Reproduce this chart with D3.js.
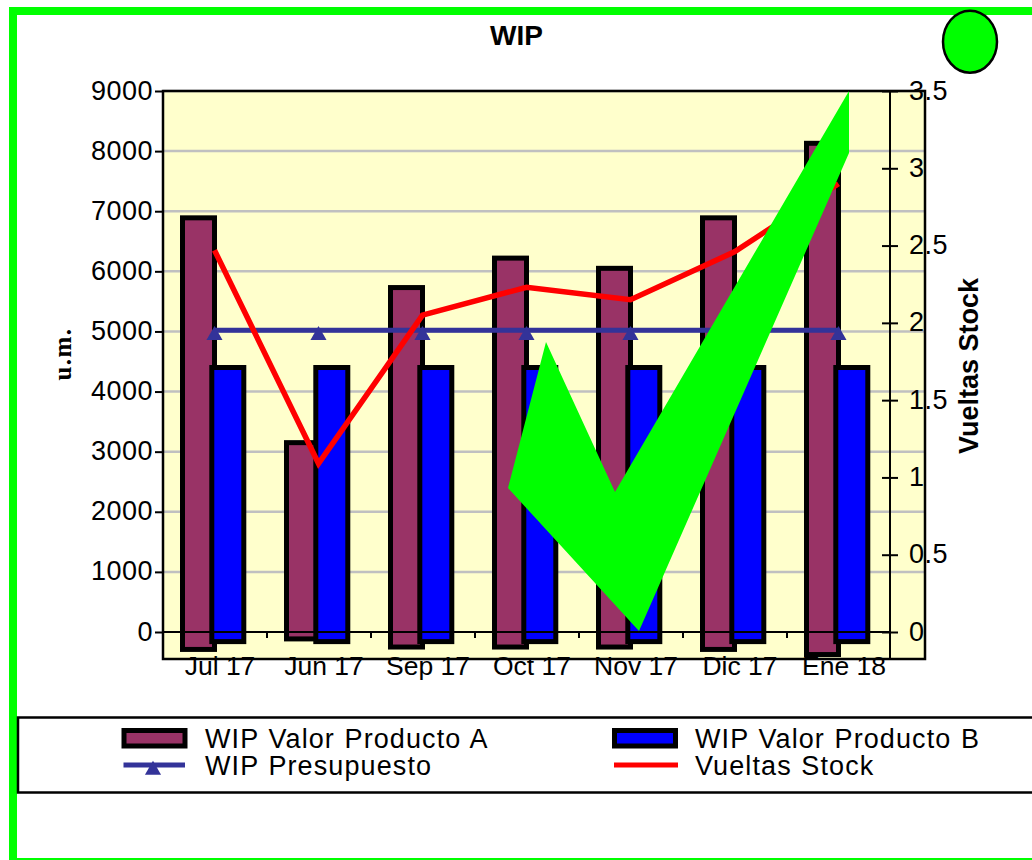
<!DOCTYPE html>
<html><head><meta charset="utf-8">
<script src="https://cdn.jsdelivr.net/npm/d3@7/dist/d3.min.js"></script>
<style>html,body{margin:0;padding:0;background:#fff;overflow:hidden}svg{display:block}text{font-family:"Liberation Sans",Arial,sans-serif;fill:#000}</style>
</head><body><script>
const categories=["Jul 17","Jun 17","Sep 17","Oct 17","Nov 17","Dic 17","Ene 18"];
const productoA=[6890,3150,5730,6220,6050,6890,8130];
const productoABase=[-290,-115,-250,-250,-250,-290,-375];
const productoB=[4400,4400,4400,4400,4400,4400,4400];
const productoBBase=[-160,-160,-160,-160,-160,-160,-160];
const presupuesto=[5020,5020,5020,5020,5020,5020,5020];
const vueltas=[2.47,1.09,2.05,2.23,2.15,2.46,2.90];
const leftTicks=[0,1000,2000,3000,4000,5000,6000,7000,8000,9000];
const rightTicks=[0,0.5,1,1.5,2,2.5,3,3.5];
const legendRows=["WIP Valor Producto A","WIP Valor Producto B","WIP Presupuesto","Vueltas Stock"];

const W=1032,H=860,GREEN="#00ff00",MAROON="#993366",BLUE="#0000ff",NAVY="#333399",RED="#ff0000";
const svg=d3.select("body").append("svg").attr("width",W).attr("height",H);
// frame
svg.append("rect").attr("x",13).attr("y",11).attr("width",W+20).attr("height",851).attr("fill","#fff").attr("stroke",GREEN).attr("stroke-width",8);

const x=d3.scaleBand().domain(categories).range([163,891]);
const y=d3.scaleLinear().domain([0,9000]).range([632,91]);
const yR=d3.scaleLinear().domain([0,3.5]).range([632,91]);
const px=163,pr=925,pt=91,pb=659;

svg.append("rect").attr("x",px).attr("y",pt).attr("width",pr-px).attr("height",pb-pt).attr("fill","#ffffcc");
// grid
svg.append("g").selectAll("line").data(leftTicks.slice(1)).join("line")
 .attr("x1",px).attr("x2",pr).attr("y1",d=>y(d)).attr("y2",d=>y(d)).attr("stroke","#c0c0c0").attr("stroke-width",2.5);

// bars
const barW=32;
function bars(vals,base,dx,fill){
 svg.append("g").selectAll("rect").data(categories).join("rect")
  .attr("x",d=>x(d)+x.bandwidth()/2+dx).attr("width",barW)
  .attr("y",(d,i)=>y(vals[i])).attr("height",(d,i)=>y(base[i])-y(vals[i]))
  .attr("fill",fill).attr("stroke","#000").attr("stroke-width",5);
}
bars(productoA,productoABase,-32.5,MAROON);
bars(productoB,productoBBase,-3.2,BLUE);

// plot frame
svg.append("rect").attr("x",px).attr("y",pt).attr("width",pr-px).attr("height",pb-pt).attr("fill","none").attr("stroke","#000").attr("stroke-width",2.5);

// left axis
const gL=svg.append("g").attr("transform",`translate(${px},0)`).call(d3.axisLeft(y).tickValues(leftTicks).tickFormat(d3.format("d")).tickSize(8).tickPadding(2));
gL.select(".domain").remove();
gL.selectAll("line").attr("stroke","#000").attr("stroke-width",2);
gL.selectAll("text").attr("font-size",27).attr("letter-spacing",0.5).attr("dy","0.3em");

// zero line + category ticks
const xAxisG=svg.append("g").attr("transform",`translate(0,${y(0)})`).call(d3.axisBottom(x).tickSize(0).tickPadding(43));
xAxisG.select(".domain").remove();
xAxisG.selectAll("text").attr("font-size",26.5).attr("dx",5).attr("dy",0);
svg.append("line").attr("x1",px).attr("x2",891).attr("y1",y(0)).attr("y2",y(0)).attr("stroke","#000").attr("stroke-width",2);
svg.append("g").selectAll("line").data(categories.slice(1)).join("line")
 .attr("x1",d=>x(d)).attr("x2",d=>x(d)).attr("y1",y(0)).attr("y2",y(0)+6).attr("stroke","#000").attr("stroke-width",2);

// right axis
const gR=svg.append("g").attr("transform",`translate(890,0)`).call(d3.axisRight(y.copy().domain(yR.domain())).tickValues(rightTicks).tickFormat(d3.format("")).tickSize(8).tickPadding(11));
gR.select(".domain").remove();
gR.selectAll("line").attr("x1",-8).attr("stroke","#000").attr("stroke-width",2);
gR.selectAll("text").attr("font-size",27).attr("text-anchor","start").attr("dy","0.3em").attr("letter-spacing",0.5);
svg.append("line").attr("x1",890).attr("x2",890).attr("y1",pt).attr("y2",pb).attr("stroke","#000").attr("stroke-width",2);

// lines
const cx=d=>x(d)+x.bandwidth()/2-0.5;
svg.append("path").datum(presupuesto).attr("fill","none").attr("stroke",NAVY).attr("stroke-width",5)
 .attr("d",d3.line().x((d,i)=>cx(categories[i])).y(d=>y(d)));
const tri=d3.symbol().type(d3.symbolTriangle).size(112);
svg.append("g").selectAll("path").data(presupuesto).join("path").attr("d",tri())
 .attr("fill",NAVY).attr("transform",(d,i)=>`translate(${cx(categories[i])},${y(d)+5})`);
svg.append("path").datum(vueltas).attr("fill","none").attr("stroke",RED).attr("stroke-width",5.5).attr("stroke-linejoin","miter")
 .attr("d",d3.line().x((d,i)=>cx(categories[i])).y(d=>yR(d)));

// check mark
svg.append("polygon").attr("points","508,488 546,342 615,492 849,91 849,153 639,631").attr("fill",GREEN);

// title & indicator
svg.append("text").attr("x",516.5).attr("y",45).attr("text-anchor","middle").attr("font-size",28).attr("font-weight","bold").text("WIP");
svg.append("ellipse").attr("cx",970).attr("cy",41.7).attr("rx",27).attr("ry",31).attr("fill",GREEN).attr("stroke","#000").attr("stroke-width",2.5);

// axis titles
svg.append("text").attr("transform","translate(71,354) rotate(-90)").attr("text-anchor","middle")
 .style("font-family","'Liberation Serif',serif").attr("font-weight","bold").attr("font-size",25).attr("letter-spacing",1.5).text("u.m.");
svg.append("text").attr("transform","translate(978,366) rotate(-90)").attr("text-anchor","middle")
 .attr("font-weight","bold").attr("font-size",27).text("Vueltas Stock");

// legend
svg.append("rect").attr("x",18).attr("y",717.5).attr("width",W+20).attr("height",75).attr("fill","#fff").attr("stroke","#000").attr("stroke-width",2.5);
const legX=[205,695],legY=[748,775];
legendRows.forEach((t,i)=>{
 svg.append("text").attr("x",legX[i%2]).attr("y",legY[i>>1]).attr("font-size",27).attr("letter-spacing",1.1).attr("word-spacing",1).text(t);
});
[[MAROON,124],[BLUE,614.5]].forEach(([c,lx])=>{
 svg.append("rect").attr("x",lx).attr("y",730.5).attr("width",61).attr("height",15.5).attr("fill",c).attr("stroke","#000").attr("stroke-width",5);
});
svg.append("line").attr("x1",123.5).attr("x2",185).attr("y1",765).attr("y2",765).attr("stroke",NAVY).attr("stroke-width",5);
svg.append("path").attr("d",tri()).attr("fill",NAVY).attr("transform","translate(153,770)");
svg.append("line").attr("x1",614).attr("x2",678).attr("y1",765).attr("y2",765).attr("stroke",RED).attr("stroke-width",5);
</script></body></html>
